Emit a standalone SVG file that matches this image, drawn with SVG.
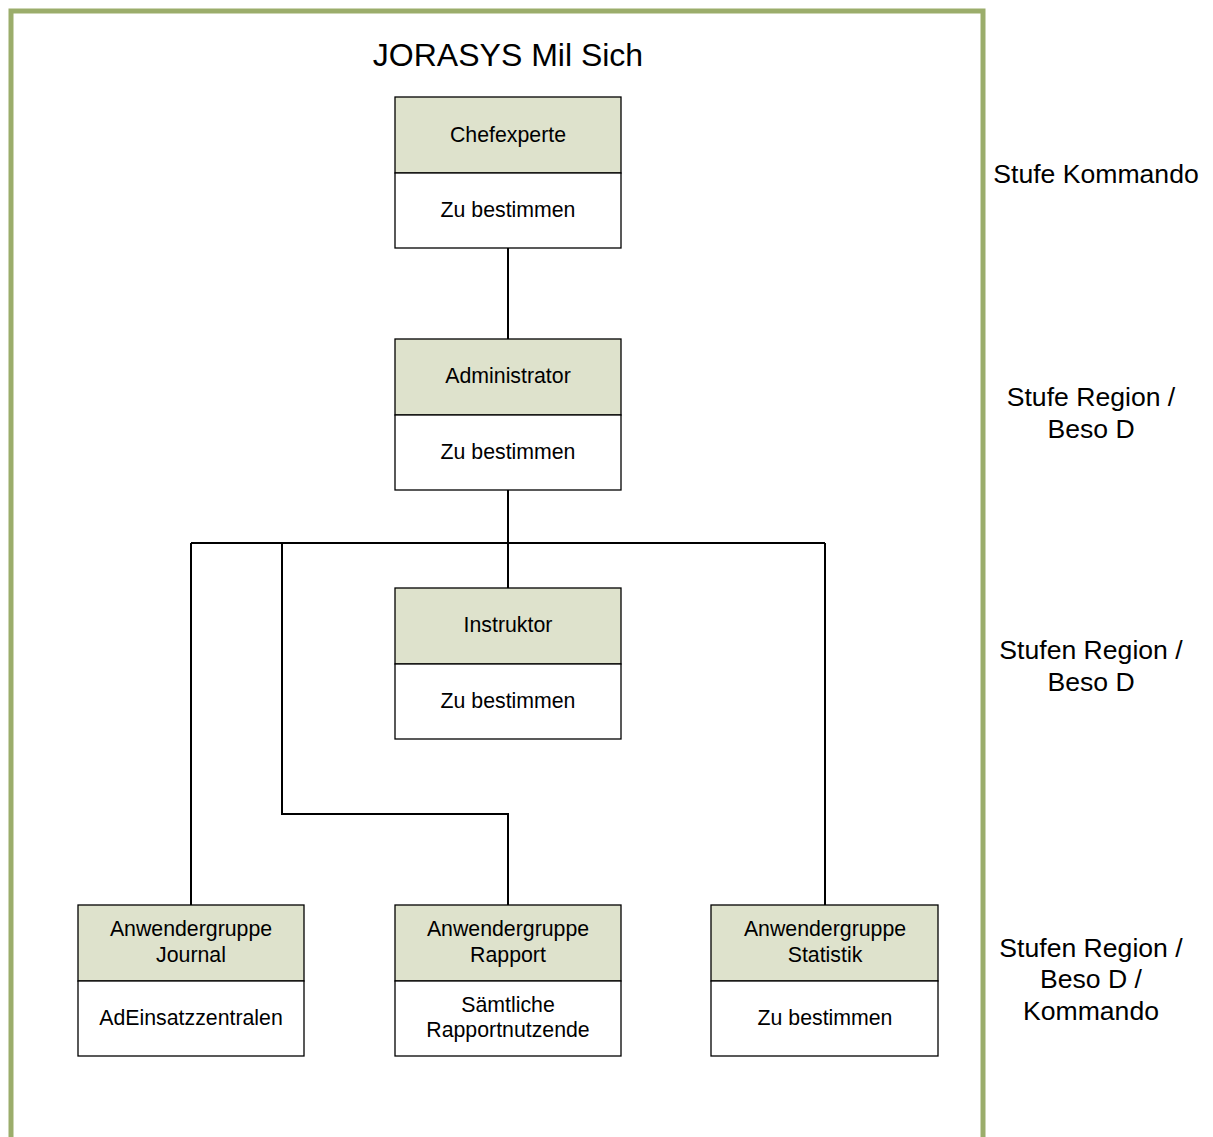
<svg xmlns="http://www.w3.org/2000/svg" width="1213" height="1137" viewBox="0 0 1213 1137">
<style>
.hd{fill:#DEE2CC;stroke:#000;stroke-width:1.3}
.bd{fill:#fff;stroke:#000;stroke-width:1.3}
.t{font-family:"Liberation Sans",Arial,sans-serif;font-size:21.3px;text-anchor:middle;fill:#000}
.s{font-family:"Liberation Sans",Arial,sans-serif;font-size:26.6px;text-anchor:middle;fill:#000}
.c{fill:none;stroke:#000;stroke-width:2}
</style>
<rect width="1213" height="1137" fill="#fff"/>
<rect x="11" y="11" width="972" height="1140" fill="none" stroke="#9BAD6B" stroke-width="5"/>
<text x="508" y="66" class="s" style="font-size:32px">JORASYS Mil Sich</text>
<g id="connectors">
<path class="c" d="M508 248V339"/>
<path class="c" d="M508 490V588"/>
<path class="c" d="M191 543H825"/>
<path class="c" d="M191 543V905"/>
<path class="c" d="M825 543V905"/>
<path class="c" d="M282 543V814H508V905"/>
</g>
<g id="chefexperte">
<rect class="hd" x="395" y="97" width="226" height="76"/>
<rect class="bd" x="395" y="173" width="226" height="75"/>
<text class="t" x="508" y="142">Chefexperte</text>
<text class="t" x="508" y="217">Zu bestimmen</text>
</g>
<g id="administrator">
<rect class="hd" x="395" y="339" width="226" height="76"/>
<rect class="bd" x="395" y="415" width="226" height="75"/>
<text class="t" x="508" y="383">Administrator</text>
<text class="t" x="508" y="459">Zu bestimmen</text>
</g>
<g id="instruktor">
<rect class="hd" x="395" y="588" width="226" height="76"/>
<rect class="bd" x="395" y="664" width="226" height="75"/>
<text class="t" x="508" y="632">Instruktor</text>
<text class="t" x="508" y="708">Zu bestimmen</text>
</g>
<g id="journal">
<rect class="hd" x="78" y="905" width="226" height="76"/>
<rect class="bd" x="78" y="981" width="226" height="75"/>
<text class="t" x="191" y="936">Anwendergruppe</text>
<text class="t" x="191" y="962">Journal</text>
<text class="t" x="191" y="1025">AdEinsatzzentralen</text>
</g>
<g id="rapport">
<rect class="hd" x="395" y="905" width="226" height="76"/>
<rect class="bd" x="395" y="981" width="226" height="75"/>
<text class="t" x="508" y="936">Anwendergruppe</text>
<text class="t" x="508" y="962">Rapport</text>
<text class="t" x="508" y="1012">Sämtliche</text>
<text class="t" x="508" y="1037">Rapportnutzende</text>
</g>
<g id="statistik">
<rect class="hd" x="711" y="905" width="227" height="76"/>
<rect class="bd" x="711" y="981" width="227" height="75"/>
<text class="t" x="825" y="936">Anwendergruppe</text>
<text class="t" x="825" y="962">Statistik</text>
<text class="t" x="825" y="1025">Zu bestimmen</text>
</g>
<g id="labels">
<text class="s" x="1096" y="183">Stufe Kommando</text>
<text class="s" x="1091" y="406">Stufe Region /</text>
<text class="s" x="1091" y="438">Beso D</text>
<text class="s" x="1091" y="659">Stufen Region /</text>
<text class="s" x="1091" y="691">Beso D</text>
<text class="s" x="1091" y="957">Stufen Region /</text>
<text class="s" x="1091" y="988">Beso D /</text>
<text class="s" x="1091" y="1020">Kommando</text>
</g>
</svg>
